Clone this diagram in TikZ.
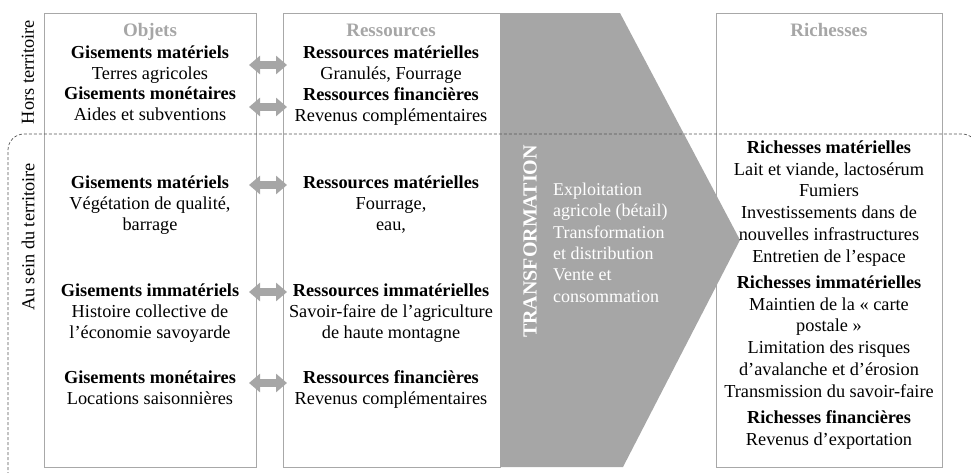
\documentclass[tikz,border=0pt]{standalone}
\usepackage{fontspec}
\setmainfont{Liberation Serif}
\usetikzlibrary{arrows.meta}
\definecolor{gr}{HTML}{A6A6A6}
\definecolor{boxline}{HTML}{A8A8A8}
\definecolor{dashcol}{HTML}{555555}
\newcommand\fl{\rule{0pt}{15pt}}
\begin{document}
\begin{tikzpicture}[x=1pt,y=-1pt,
  box/.style={draw=boxline, line width=0.9pt, inner sep=0pt, anchor=north west},
  grp/.style={align=center, anchor=north, inner sep=0pt, yshift=15pt, font=\fontsize{18.3}{21}\selectfont},
  grpw/.style={grp, font=\fontsize{18.3}{21.8}\selectfont},
  grpc/.style={align=left, anchor=north west, inner sep=0pt, yshift=15pt, text=white, font=\fontsize{18}{21.4}\selectfont},
  ttl/.style={anchor=base, inner sep=0pt, text=gr, font=\fontsize{19}{21}\selectfont\bfseries},
  side/.style={rotate=90, inner sep=0pt, font=\fontsize{18.3}{21}\selectfont},
  fat/.style={gr, line width=8pt, {Triangle[length=11pt,width=18pt]}-{Triangle[length=11pt,width=18pt]}},
  dashline/.style={draw=dashcol, line width=0.7pt, dash pattern=on 3pt off 2pt, rounded corners=16pt}
]
\useasboundingbox (0,0) rectangle (971,472);
% boxes
\node[box, minimum width=212pt, minimum height=454pt] (lbox) at (44,13) {};
\node[box, minimum width=217pt, minimum height=454pt] (rbox) at (283,13) {};
\node[box, minimum width=226pt, minimum height=454pt] (wbox) at (716,13) {};
% chevron
\fill[gr] (500,13) -- (620,13) -- (740,240) -- (623,467) -- (500,467) -- cycle;
% dashed territory limit
\begin{scope}
\clip (0,0) rectangle (971,472);
\draw[dashline] (8,495) -- (8,134) -- (978,134) -- (978,495);
\end{scope}
% side labels
\node[side] (hors) at (28,72) {Hors territoire};
\node[side] (ausein) at (28,237) {Au sein du territoire};
% titles
\node[ttl] (tobj) at (150,36) {Objets};
\node[ttl] (tres) at (391,36) {Ressources};
\node[ttl] (tric) at (829,36) {Richesses};
% objets
\node[grp] (L1) at (150,58) {\fl\textbf{Gisements matériels}\\Terres agricoles};
\node[grp] (L2) at (150,99) {\fl\textbf{Gisements monétaires}\\Aides et subventions};
\node[grp] (L3) at (150,188) {\fl\textbf{Gisements matériels}\\Végétation de qualité,\\barrage};
\node[grp] (L4) at (150,296) {\fl\textbf{Gisements immatériels}\\Histoire collective de\\l’économie savoyarde};
\node[grp] (L5) at (150,383) {\fl\textbf{Gisements monétaires}\\Locations saisonnières};
% ressources
\node[grp] (R1) at (391,58) {\fl\textbf{Ressources matérielles}\\Granulés, Fourrage};
\node[grp] (R2) at (391,100) {\fl\textbf{Ressources financières}\\Revenus complémentaires};
\node[grp] (R3) at (391,188) {\fl\textbf{Ressources matérielles}\\Fourrage,\\eau,};
\node[grp] (R4) at (391,296) {\fl\textbf{Ressources immatérielles}\\Savoir-faire de l’agriculture\\de haute montagne};
\node[grp] (R5) at (391,383) {\fl\textbf{Ressources financières}\\Revenus complémentaires};
% transformation
\node[rotate=90, inner sep=0pt, text=white, font=\fontsize{20}{22}\selectfont\bfseries] (tr) at (530,241.5) {TRANSFORMATION};
\node[grpc] (trl) at (553,195) {\fl Exploitation\\agricole (bétail)\\Transformation\\et distribution\\Vente et\\consommation};
% richesses
\node[grpw] (W1) at (829,153) {\fl\textbf{Richesses matérielles}\\Lait et viande, lactosérum\\Fumiers\\Investissements dans de\\nouvelles infrastructures\\Entretien de l’espace};
\node[grpw] (W2) at (829,288) {\fl\textbf{Richesses immatérielles}\\Maintien de la « carte\\postale »\\Limitation des risques\\d’avalanche et d’érosion\\Transmission du savoir-faire};
\node[grpw] (W3) at (829,423) {\fl\textbf{Richesses financières}\\Revenus d’exportation};
% double arrows
\foreach \i/\yy in {1/65,2/107,3/185,4/292,5/383}{
  \coordinate (a\i l) at (249,\yy);
  \coordinate (a\i r) at (287,\yy);
  \draw[fat] (a\i l) -- (a\i r);
}
\end{tikzpicture}
\end{document}
